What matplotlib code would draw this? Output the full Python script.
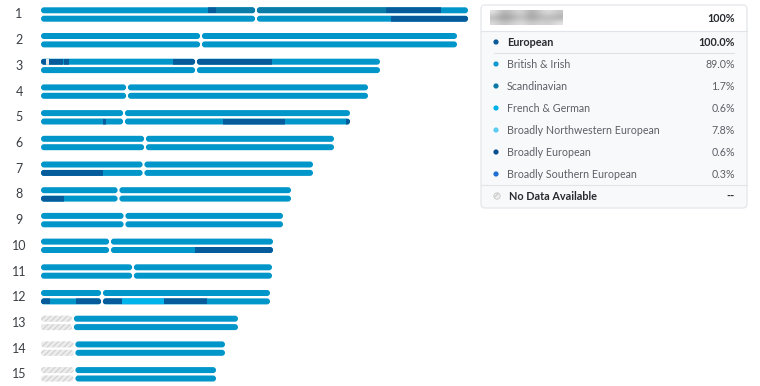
import numpy as np
import matplotlib
matplotlib.use('Agg')
import matplotlib.pyplot as plt
from matplotlib.patches import FancyBboxPatch, Circle, Rectangle

plt.rcParams['font.family'] = ['Lato', 'DejaVu Sans']
plt.rcParams['hatch.linewidth'] = 0.8

# Chromosome layout (x in pixel-like units)
chrom_labels = ['1', '2', '3', '4', '5', '6', '7', '8', '9', '10', '11', '12', '13', '14', '15']
chrom_start = 41
chrom_end = [468, 457, 380, 368, 350, 334, 313, 291, 283, 273, 272, 270, 238, 225, 216]
centromere = [256, 201, 196, 127, 124, 145, 143.5, 118.5, 124.5, 110, 133, 102, 73, 74.5, 74.5]
no_data_arm = [False] * 12 + [True, True, True]   # 13-15: short arm has no data

# painted segments: (chromosome, strand 0=top 1=bottom, start, end, category)
segments = [
    (1, 0, 208, 216, 'Broadly European'),
    (1, 0, 216, 386, 'Scandinavian'),
    (1, 0, 386, 441, 'Broadly European'),
    (1, 1, 391, 468, 'Broadly European'),
    (3, 0, 41, 46, 'Broadly European'),
    (3, 0, 46, 48.5, 'No Data Available'),
    (3, 0, 48.5, 62.5, 'Broadly European'),
    (3, 0, 64, 69, 'Broadly European'),
    (3, 0, 173, 272, 'Broadly European'),
    (5, 1, 102.5, 106, 'Broadly European'),
    (5, 1, 223, 285, 'Broadly European'),
    (5, 1, 345.5, 350, 'Broadly European'),
    (7, 1, 41, 102.5, 'Broadly European'),
    (8, 1, 41, 64, 'Broadly European'),
    (10, 1, 195, 273, 'Broadly European'),
    (12, 1, 41, 50, 'Broadly European'),
    (12, 1, 75.7, 121.7, 'Broadly European'),
    (12, 1, 121.7, 164, 'French & German'),
    (12, 1, 164, 206.7, 'Broadly European'),
]

legend_names = ['British & Irish', 'Scandinavian', 'French & German',
                'Broadly Northwestern European', 'Broadly European',
                'Broadly Southern European']
legend_pcts = ['89.0%', '1.7%', '0.6%', '7.8%', '0.6%', '0.3%']

seg_colors = {
    'British & Irish': '#0096c9',
    'Scandinavian': '#0b7ca8',
    'French & German': '#00b3ea',
    'Broadly Northwestern European': '#55c9ef',
    'Broadly European': '#065b9b',
    'Broadly Southern European': '#1f6fd6',
    'No Data Available': '#e9e9e9',
}
dot_colors = ['#0b9bd0', '#0b78a6', '#00b2ea', '#5bcdf0', '#0a4f8c', '#1f6fd6']

fig = plt.figure(figsize=(7.6, 3.86), dpi=100)
ax = fig.add_axes([0, 0, 1, 1])

row0, row_step = 14.5, 25.7
strand_off, strand_h = 4.2, 6.0


def arm(x0, x1, yc, hatched=False):
    p = FancyBboxPatch((x0 + 3, yc - strand_h / 2 + 3), x1 - x0 - 6, strand_h - 6,
                       boxstyle='round,pad=3', lw=0,
                       fc='#ececec' if hatched else seg_colors['British & Irish'],
                       ec='#cfcfcf' if hatched else 'none',
                       hatch='//////' if hatched else None)
    ax.add_patch(p)
    return p


arms = {}
for i, lab in enumerate(chrom_labels):
    yc = row0 + i * row_step
    ax.text(19, yc, lab, ha='center', va='center', fontsize=9, color='#3a3f44')
    for s in range(2):
        ys = yc + (-strand_off if s == 0 else strand_off)
        p = arm(chrom_start, centromere[i] - 0.9, ys, hatched=no_data_arm[i])
        q = arm(centromere[i] + 0.9, chrom_end[i], ys)
        arms[(i + 1, s)] = (p, q, ys)

for c, s, x0, x1, cat in segments:
    p, q, ys = arms[(c, s)]
    for a in (p, q):
        bars = ax.barh(ys, x1 - x0, left=x0, height=strand_h, color=seg_colors[cat], lw=0)
        for b in bars:
            b.set_clip_path(a)

# legend panel
px0, px1, py0, py1 = 481, 747, 5, 208
ax.add_patch(FancyBboxPatch((px0, py0), px1 - px0, py1 - py0, boxstyle='round,pad=0,rounding_size=4',
                            fc='#f8f9fa', ec='#e1e4e8', lw=0.8, zorder=1))
ax.add_patch(Rectangle((px0 + 0.6, py0 + 0.6), px1 - px0 - 1.2, 25.5, fc='white', lw=0, zorder=2))
ax.plot([px0, px1], [31, 31], color='#e1e4e8', lw=0.8, zorder=3)

# blurred name block
blur = np.array([[0.90, 0.70, 0.78, 0.86, 0.66, 0.80, 0.88, 0.78],
                 [0.72, 0.58, 0.66, 0.76, 0.60, 0.70, 0.72, 0.66],
                 [0.86, 0.76, 0.82, 0.88, 0.78, 0.84, 0.80, 0.90]])
ax.imshow(blur, cmap='gray', vmin=0, vmax=1, extent=(490, 563, 25, 10),
          interpolation='bicubic', zorder=3, aspect='auto')

ax.text(735, 18, '100%', ha='right', va='center', fontsize=7.8, fontweight='bold', color='#272b30', zorder=4)

ax.add_patch(Circle((496, 42), 2.6, fc='#0b5a96', lw=0, zorder=4))
ax.text(507, 42, 'European', ha='left', va='center', fontsize=7.8, fontweight='bold', color='#272b30', zorder=4)
ax.text(735, 42, '100.0%', ha='right', va='center', fontsize=7.8, fontweight='bold', color='#272b30', zorder=4)
ax.plot([494, 734], [53, 53], color='#dfe2e6', lw=0.8, zorder=3)

for k, (name, pct) in enumerate(zip(legend_names, legend_pcts)):
    y = 64 + k * 22
    ax.add_patch(Circle((496, y), 2.6, fc=dot_colors[k], lw=0, zorder=4))
    ax.text(507, y, name, ha='left', va='center', fontsize=7.7, color='#5b6066', zorder=4)
    ax.text(735, y, pct, ha='right', va='center', fontsize=7.7, color='#5b6066', zorder=4)

ax.plot([px0, px1], [185, 185], color='#e1e4e8', lw=0.8, zorder=3)
ax.add_patch(Circle((497, 196), 3.2, fc='#eeeeee', ec='#c8c8c8', lw=0.6, hatch='////', zorder=4))
ax.text(509, 196, 'No Data Available', ha='left', va='center', fontsize=7.8, fontweight='bold', color='#272b30', zorder=4)
ax.text(735, 196, '--', ha='right', va='center', fontsize=7.8, fontweight='bold', color='#272b30', zorder=4)

ax.set_xlim(0, 760)
ax.set_ylim(386, 0)
ax.axis('off')

fig.savefig('out.png', dpi=100)
